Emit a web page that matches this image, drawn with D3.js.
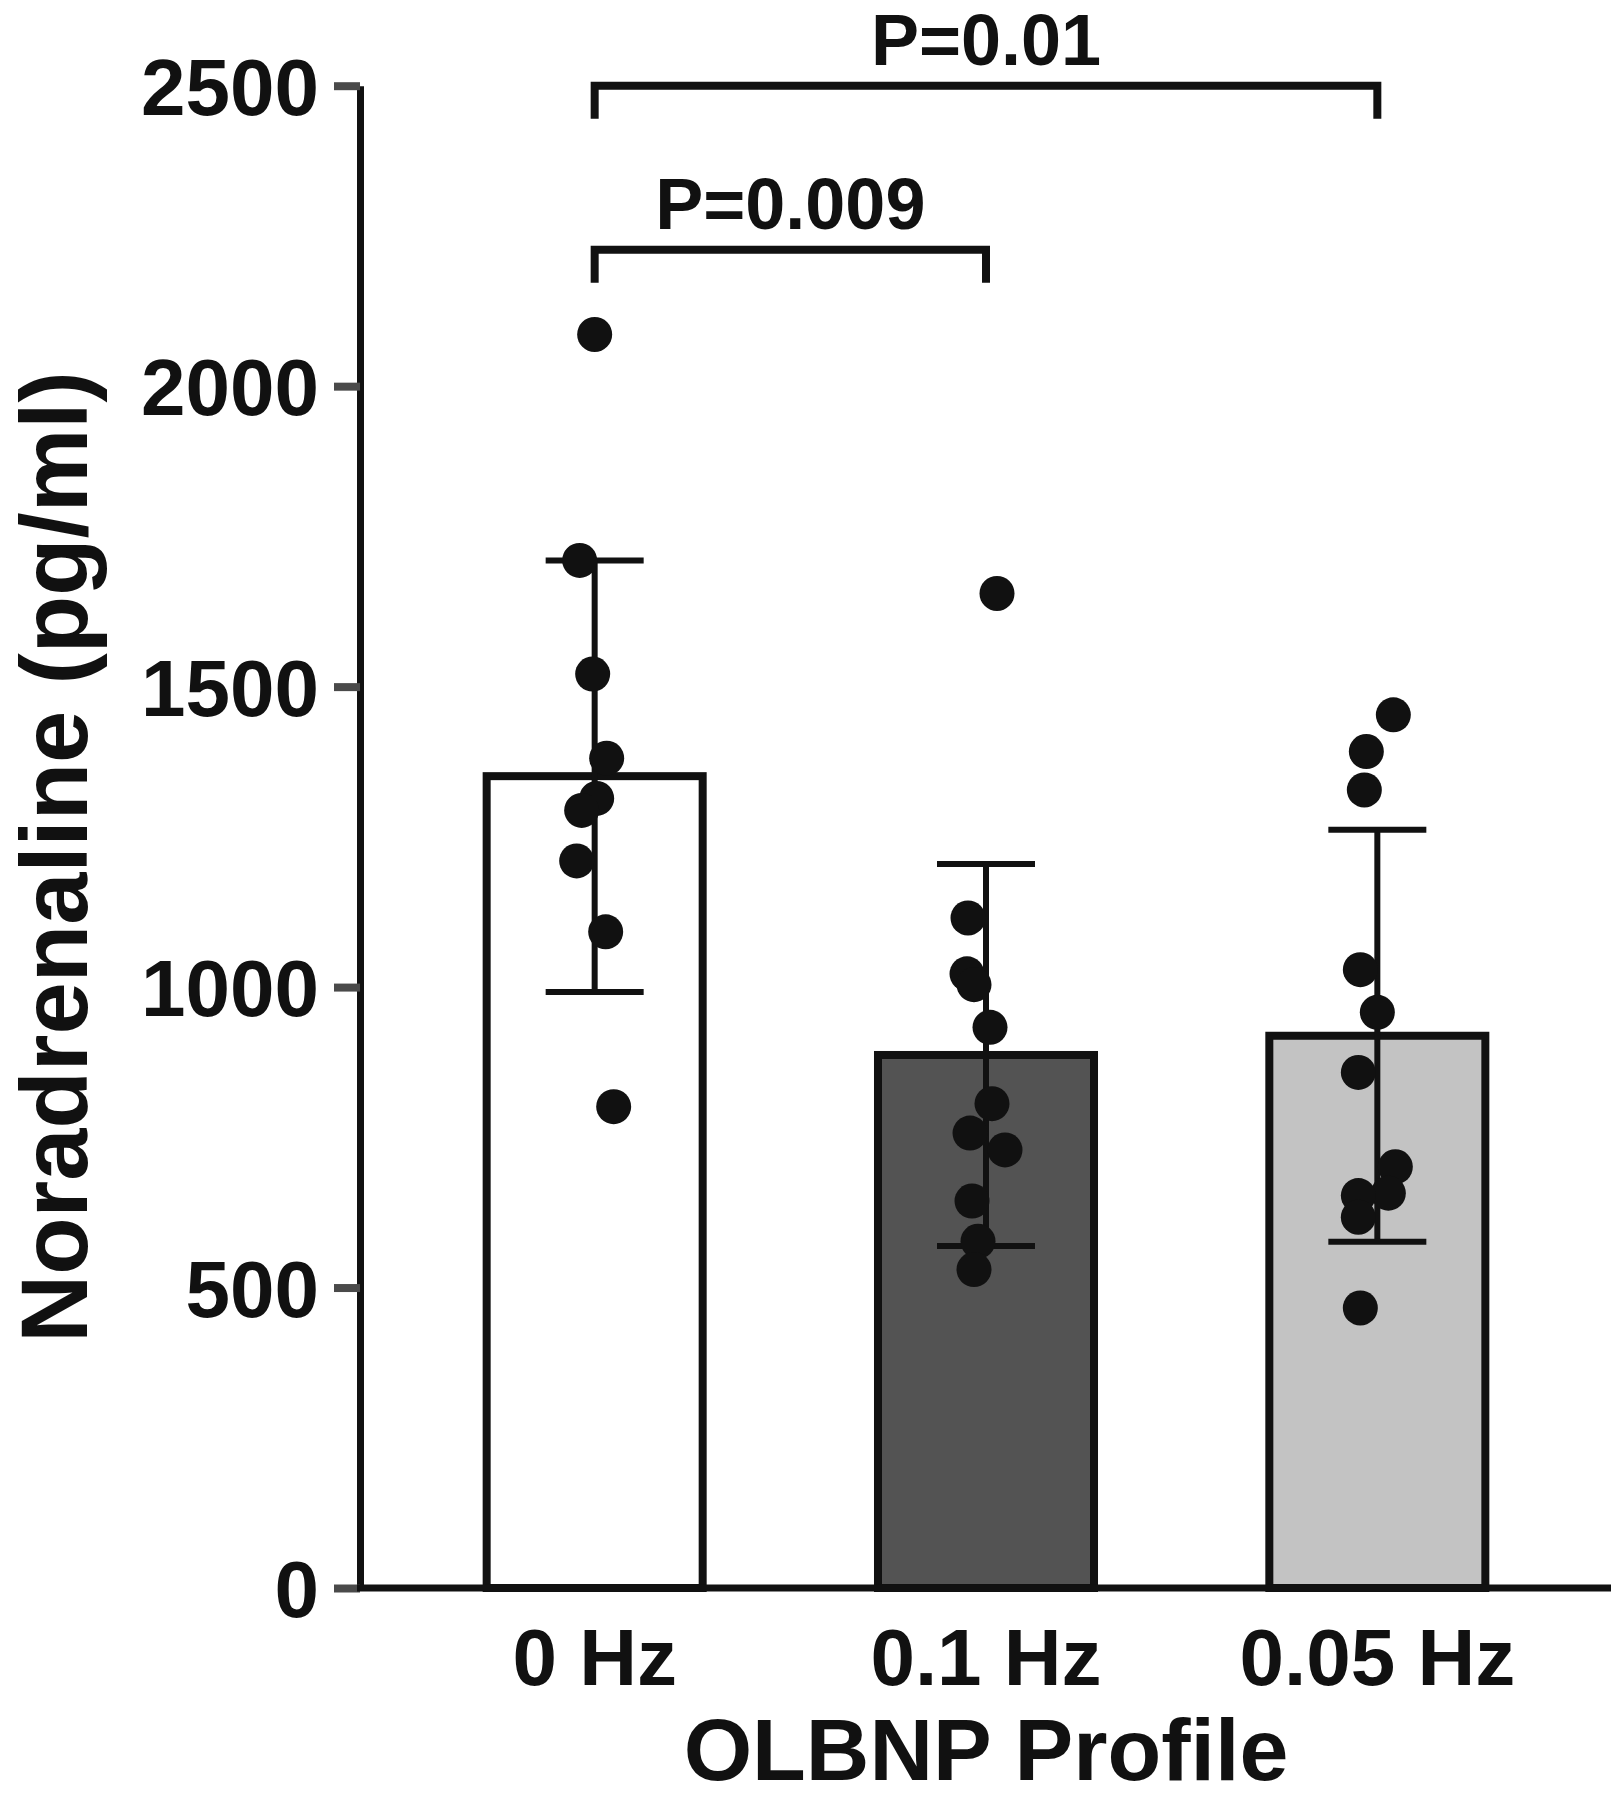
<!DOCTYPE html>
<html>
<head>
<meta charset="utf-8">
<script src="https://cdn.jsdelivr.net/npm/d3@7/dist/d3.min.js"></script>
<style>
  html, body { margin: 0; padding: 0; background: #fff; }
  svg { display: block; }
  text { font-family: "Liberation Sans", Arial, Helvetica, sans-serif; font-weight: bold; fill: #111; }
</style>
</head>
<body>
<svg id="chart" width="1622" height="1800"></svg>
<script>
// ---- data ----
const categories = ["0 Hz", "0.1 Hz", "0.05 Hz"];
const means = [1351, 887, 919];
const sds = [359, 318, 343];
const fills = ["#ffffff", "#535353", "#c3c3c3"];
const pointsHz0 = [2086, 1710, 1521, 1381, 1314, 1294, 1210, 1092, 801];
const jitterHz0 = [0, -15, -2, 12, 2, -13, -18, 11, 19];
const pointsHz01 = [1655, 1115, 1022, 1004, 933, 806, 757, 729, 644, 577, 530];
const jitterHz01 = [11, -18, -19, -12, 4, 6, -16, 19, -14, -8, -12];
const pointsHz005 = [1453, 1392, 1328, 1029, 958, 858, 701, 657, 653, 617, 466];
const jitterHz005 = [16, -11, -13, -17, 0, -19, 18, 11, -19, -19, -17];
const yTicks = [0, 500, 1000, 1500, 2000, 2500];
const comparisons = [
  { from: "0 Hz", to: "0.05 Hz", level: 2500, label: "P=0.01" },
  { from: "0 Hz", to: "0.1 Hz", level: 2227, label: "P=0.009" }
];
const yLabel = "Noradrenaline (pg/ml)";
const xLabel = "OLBNP Profile";

// ---- scales ----
const svg = d3.select("#chart");
const axisX = 360, axisRight = 1611;
const y = d3.scaleLinear().domain([0, 2500]).range([1588, 85.7]);
const x = d3.scaleBand().domain(categories).range([399, 1573]).paddingInner(0.448).paddingOuter(0.224);
const cx = c => x(c) + x.bandwidth() / 2;

const rows = categories.map((c, i) => ({ cat: c, mean: means[i], sd: sds[i], fill: fills[i] }));
const pointSets = [
  [pointsHz0, jitterHz0], [pointsHz01, jitterHz01], [pointsHz005, jitterHz005]
];
const points = [];
pointSets.forEach(([vals, jit], i) => vals.forEach((v, k) => points.push({ cat: categories[i], v, j: jit[k] })));

// ---- bars ----
svg.append("g").selectAll("rect").data(rows).join("rect")
  .attr("x", d => x(d.cat))
  .attr("width", x.bandwidth())
  .attr("y", d => y(d.mean))
  .attr("height", d => y(0) - y(d.mean))
  .attr("fill", d => d.fill)
  .attr("stroke", "#111")
  .attr("stroke-width", 8);

// ---- error bars ----
const eb = svg.append("g").attr("stroke", "#111").attr("stroke-width", 6);
const capHalf = 49;
rows.forEach(d => {
  const c = cx(d.cat);
  eb.append("line").attr("x1", c).attr("x2", c).attr("y1", y(d.mean + d.sd)).attr("y2", y(d.mean - d.sd));
  eb.append("line").attr("x1", c - capHalf).attr("x2", c + capHalf).attr("y1", y(d.mean + d.sd)).attr("y2", y(d.mean + d.sd));
  eb.append("line").attr("x1", c - capHalf).attr("x2", c + capHalf).attr("y1", y(d.mean - d.sd)).attr("y2", y(d.mean - d.sd));
});

// ---- points ----
svg.append("g").selectAll("circle").data(points).join("circle")
  .attr("cx", d => cx(d.cat) + d.j)
  .attr("cy", d => y(d.v))
  .attr("r", 17.5)
  .attr("fill", "#111");

// ---- y axis ----
const yAxis = svg.append("g").attr("transform", `translate(${axisX},0)`)
  .call(d3.axisLeft(y).tickValues(yTicks).tickFormat(d3.format("d")).tickSize(26).tickSizeOuter(0).tickPadding(15));
yAxis.select(".domain").attr("stroke", "#111").attr("stroke-width", 7);
yAxis.selectAll(".tick line").attr("stroke", "#4a4a4a").attr("stroke-width", 8);
yAxis.selectAll(".tick text").style("font-size", "80px").attr("fill", "#111").attr("dy", "0.36em");

// ---- x axis ----
svg.append("line").attr("x1", axisX - 3).attr("x2", axisRight).attr("y1", y(0)).attr("y2", y(0))
  .attr("stroke", "#111").attr("stroke-width", 7);
const xAxis = svg.append("g").attr("transform", `translate(0,${y(0)})`)
  .call(d3.axisBottom(x).tickSize(0).tickPadding(0));
xAxis.select(".domain").remove();
xAxis.selectAll(".tick text").style("font-size", "80px").attr("fill", "#111").attr("dy", null).attr("y", 97);

// ---- axis titles ----
svg.append("text").attr("transform", "translate(87,857) rotate(-90)")
  .attr("text-anchor", "middle").style("font-size", "94px").text(yLabel);
svg.append("text").attr("x", cx(categories[1])).attr("y", 1780)
  .attr("text-anchor", "middle").style("font-size", "88px").text(xLabel);

// ---- significance brackets ----
const br = svg.append("g");
comparisons.forEach(c => {
  const x1 = cx(c.from), x2 = cx(c.to), yy = y(c.level);
  br.append("path")
    .attr("d", `M${x1},${yy + 33}V${yy}H${x2}V${yy + 33}`)
    .attr("fill", "none").attr("stroke", "#111").attr("stroke-width", 8);
  br.append("text").attr("x", (x1 + x2) / 2).attr("y", yy - 21)
    .attr("text-anchor", "middle").style("font-size", "72px").text(c.label);
});
</script>
</body>
</html>
